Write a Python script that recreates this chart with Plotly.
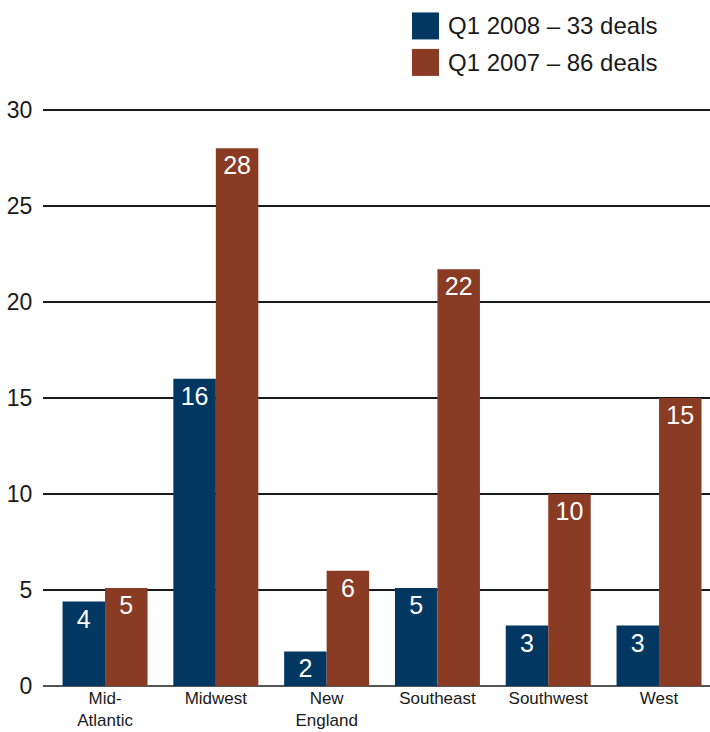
import plotly.graph_objects as go

categories = ["Mid-<br>Atlantic", "Midwest", "New<br>England", "Southeast", "Southwest", "West"]
series_names = ["Q1 2008 – 33 deals", "Q1 2007 – 86 deals"]
q1_2008 = [4.4, 16.0, 1.8, 5.1, 3.15, 3.15]
q1_2008_labels = ["4", "16", "2", "5", "3", "3"]
q1_2007 = [5.1, 28.0, 6.0, 21.7, 10.0, 15.0]
q1_2007_labels = ["5", "28", "6", "22", "10", "15"]
y_ticks = [0, 5, 10, 15, 20, 25, 30]

colors = ["#013761", "#8A3B24"]
FONT = "Liberation Sans, Arial, sans-serif"

fig = go.Figure()
for name, vals, labels, col in [
    (series_names[0], q1_2008, q1_2008_labels, colors[0]),
    (series_names[1], q1_2007, q1_2007_labels, colors[1]),
]:
    fig.add_trace(go.Bar(
        x=categories, y=vals, name=name, text=labels,
        marker=dict(color=col, line=dict(width=0)),
        textposition="inside", insidetextanchor="end",
        constraintext="none",
        textfont=dict(color="white", size=25, family=FONT),
        showlegend=False, hoverinfo="skip",
    ))

# plot area geometry in pixels
W, H = 710, 732
L, R, B = 43, 0, 46
YMAX = 30.15
T = (H - B) - (H - B - 109.5) * YMAX / 30
pw, ph = W - L - R, H - T - B

def px_x(p):
    return (p - L) / pw

def px_y(p):
    return (H - B - p) / ph

# legend drawn as squares + labels
for i, (name, col) in enumerate(zip(series_names, colors)):
    top = 12 + i * 36.5
    fig.add_shape(type="rect", xref="paper", yref="paper",
                  x0=px_x(412), x1=px_x(439), y0=px_y(top + 27), y1=px_y(top),
                  fillcolor=col, line=dict(width=0))
    fig.add_annotation(xref="paper", yref="paper", x=px_x(446), y=px_y(top + 13.5),
                       text=name, showarrow=False, xanchor="left", yanchor="middle",
                       font=dict(size=24, color="#1a1a1a", family=FONT))

fig.update_layout(
    width=W, height=H,
    margin=dict(l=L, r=R, t=T, b=B, pad=0, autoexpand=False),
    plot_bgcolor="white", paper_bgcolor="white",
    barmode="group", bargap=0.233, bargroupgap=0,
    font=dict(family=FONT, color="#1a1a1a"),
    xaxis=dict(range=[-0.56, 5.46], showgrid=False, showline=False, zeroline=False,
               automargin=False,
               ticks="", ticklen=0,
               tickfont=dict(size=17, color="#1a1a1a", family=FONT)),
    yaxis=dict(range=[0, YMAX], tickvals=y_ticks, showgrid=True, gridcolor="#1a1a1a",
               automargin=False,
               gridwidth=1.5, zeroline=True, zerolinecolor="#555555", zerolinewidth=1.5,
               showline=False, ticks="outside", ticklen=5, tickcolor="rgba(0,0,0,0)",
               tickfont=dict(size=23, color="#1a1a1a", family=FONT)),
)

fig.write_html("out.html")
